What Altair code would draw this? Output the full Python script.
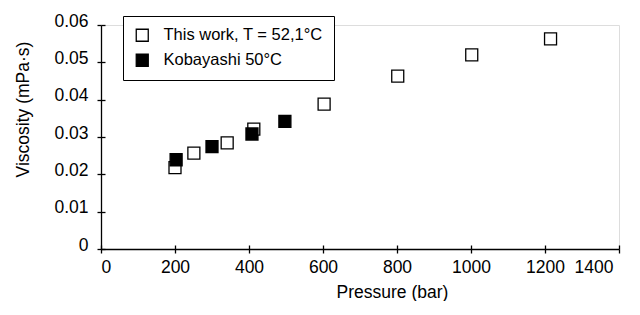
import altair as alt
import pandas as pd

series_names = ["This work, T = 52,1°C", "Kobayashi 50°C"]

this_work_p = [200, 251, 341, 413, 603, 802, 1002, 1215]
this_work_v = [0.0218, 0.0257, 0.0284, 0.0321, 0.0388, 0.0463, 0.0520, 0.0563]

kob_p = [203, 300, 408, 497]
kob_v = [0.0239, 0.0274, 0.0308, 0.0342]

x_ticks = [0, 200, 400, 600, 800, 1000, 1200, 1400]
y_ticks = [0, 0.01, 0.02, 0.03, 0.04, 0.05, 0.06]

rows = []
for p, v in zip(this_work_p, this_work_v):
    rows.append({"p": p, "v": v, "s": series_names[0]})
for p, v in zip(kob_p, kob_v):
    rows.append({"p": p, "v": v, "s": series_names[1]})
df = pd.DataFrame(rows)

FONT = "Liberation Sans"
W, H = 518, 224

xscale = alt.Scale(domain=[0, 1400], nice=False, zero=False)
yscale = alt.Scale(domain=[0, 0.06], nice=False, zero=False)

base = alt.Chart(df)

points = base.mark_point(
    shape="square", filled=True, size=144, stroke="black", strokeWidth=1.3, opacity=1
).encode(
    x=alt.X("p:Q", scale=xscale, axis=alt.Axis(
        values=x_ticks, format="d", title="Pressure (bar)", grid=False, domainColor="black",
        domainWidth=1.3, tickColor="black", tickWidth=1.3, tickSize=4,
        labelPadding=5, labelFontSize=17.5, labelFont=FONT, labelColor="black",
        labelOffset=alt.ExprRef("datum.value == 1400 ? -6 : 0"),
        titleFont=FONT, titleFontSize=17.5, titleFontWeight="normal", titleColor="black",
        titleX=291, titleY=48, titleBaseline="alphabetic", titleAnchor="start",
        titleAlign="center")),
    y=alt.Y("v:Q", scale=yscale, axis=alt.Axis(
        values=y_ticks, format=".2~f", title="Viscosity (mPa·s)", grid=False,
        domainColor="black", domainWidth=1.3, tickColor="black", tickWidth=1.3,
        tickSize=4, labelPadding=9, labelOffset=-4, labelFontSize=17.5, labelFont=FONT,
        labelColor="black", titleFont=FONT, titleFontSize=17.5, titleFontWeight="normal",
        titleColor="black", titleX=-73, titleY=84, titleBaseline="alphabetic",
        titleAngle=270, titleAlign="center")),
    fill=alt.Fill("s:N", scale=alt.Scale(domain=series_names, range=["white", "black"]),
                  sort=series_names,
                  legend=alt.Legend(
                      title=None, orient="none", legendX=22, legendY=-9,
                      padding=11, rowPadding=7, labelOffset=13, labelFont=FONT,
                      labelFontSize=16.5, labelColor="black", symbolType="square",
                      symbolSize=144, symbolStrokeColor="black", symbolStrokeWidth=1.3,
                      strokeColor="black", fillColor="white", labelLimit=400)),
)

inner = base.mark_point(opacity=0).encode(
    x=alt.X("p:Q", scale=xscale, axis=alt.Axis(
        orient="top", offset=-H, values=x_ticks, labels=False, domain=False,
        title=None, grid=False, tickColor="black", tickWidth=1.3, tickSize=4)),
    y=alt.Y("v:Q", scale=yscale, axis=alt.Axis(
        orient="right", offset=-W, values=y_ticks, labels=False, domain=False,
        title=None, grid=False, tickColor="black", tickWidth=1.3, tickSize=4)),
)

chart = alt.layer(inner, points).resolve_axis(x="independent", y="independent").properties(
    width=W, height=H,
    autosize=alt.AutoSizeParams(type="none"),
    padding={"left": 93, "top": 17, "right": 13, "bottom": 52},
).configure_view(stroke=None).configure(background="white")

chart.save("out.html", embed_options={"renderer": "svg", "actions": False})
